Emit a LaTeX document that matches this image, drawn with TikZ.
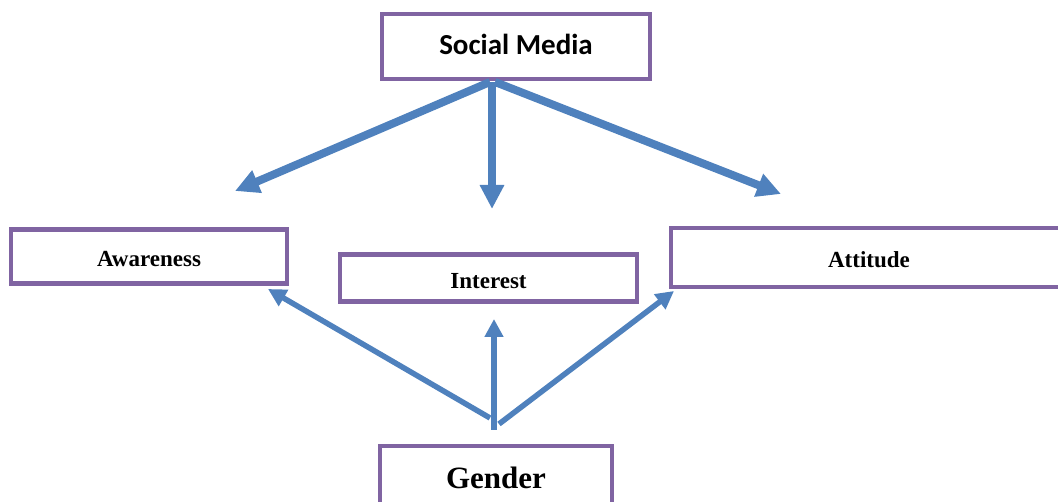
\documentclass[tikz,border=0pt]{standalone}
\usepackage{fontspec}
\setmainfont{Liberation Serif}
\newfontfamily\calibri{Carlito}
\usetikzlibrary{arrows.meta,calc}
\definecolor{boxpurple}{HTML}{8064A2}
\definecolor{arrowblue}{HTML}{4F81BD}
\tikzset{
  box/.style={draw=boxpurple, line width=4.5pt, fill=white, inner sep=0pt, outer sep=0pt, align=center},
  boxtext/.style={font=\bfseries\fontsize{23}{27}\selectfont, text height=21pt, text depth=0pt},
  bigarrow/.style={draw=arrowblue, line width=8pt, -{Triangle[length=24pt,width=23pt]}},
  smallarrow/.style={draw=arrowblue, line width=5.5pt, -{Triangle[length=18pt,width=18pt]}}
}
\begin{document}
\begin{tikzpicture}[x=1pt,y=-1pt]
\useasboundingbox (0,0) rectangle (1058,502);
\node[box, minimum width=268pt, minimum height=65pt, text height=16pt, text depth=0pt,
  font=\calibri\bfseries\fontsize{29}{33}\selectfont] (sm) at (516,46.5) {Social Media};
\node[box, boxtext, minimum width=276pt, minimum height=54pt] (aw) at (149,256.5) {Awareness};
\node[box, boxtext, minimum width=297pt, minimum height=47pt] (in) at (488.5,278) {Interest};
\node[box, boxtext, minimum width=396pt, minimum height=59pt] (at) at (869,257.5) {Attitude};
\node[box, minimum width=232pt, minimum height=64pt,
  font=\bfseries\fontsize{31}{35}\selectfont] (ge) at (496,478) {Gender};
% start and end points of the arrows
\coordinate (smL) at ($(sm.south)+(-26,3)$);
\coordinate (smM) at ($(sm.south)+(-24,3)$);
\coordinate (smR) at ($(sm.south)+(-21,3)$);
\coordinate (tAw) at (235,191);
\coordinate (tIn) at (492,209);
\coordinate (tAt) at (781,194);
\coordinate (geL) at ($(ge.north)+(-6,-28)$);
\coordinate (geM) at ($(ge.north)+(-2,-16)$);
\coordinate (geR) at ($(ge.north)+(3,-22)$);
\coordinate (bAw) at (268,289);
\coordinate (bIn) at (494,319);
\coordinate (bAt) at (674,291);
\draw[bigarrow] (smL) -- (tAw);
\draw[bigarrow] (smM) -- (tIn);
\draw[bigarrow] (smR) -- (tAt);
\draw[smallarrow] (geL) -- (bAw);
\draw[smallarrow] (geM) -- (bIn);
\draw[smallarrow] (geR) -- (bAt);
\end{tikzpicture}
\end{document}
